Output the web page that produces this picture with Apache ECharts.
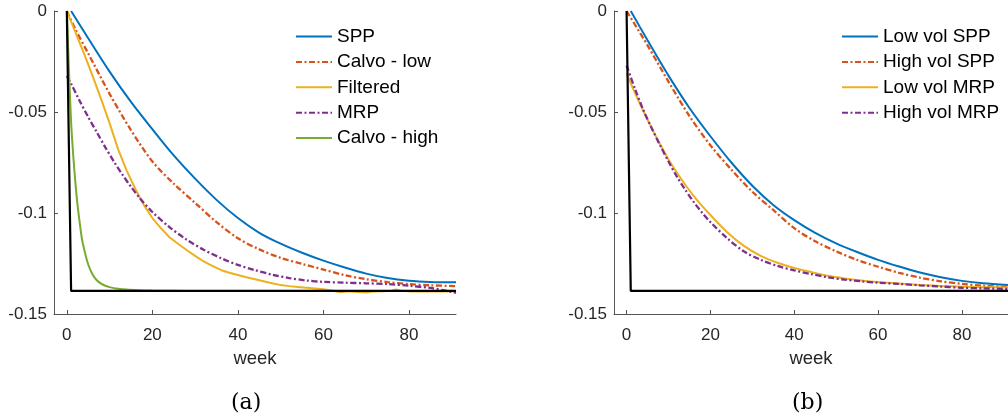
<!DOCTYPE html>
<html>
<head>
<meta charset="utf-8">
<script src="https://cdn.jsdelivr.net/npm/echarts@6/dist/echarts.min.js"></script>
<style>
html,body{margin:0;padding:0;background:#fff;}
#chart{width:1008px;height:416px;}
</style>
</head>
<body>
<div id="chart"></div>
<script>
// ---------- tick labels ----------
var xTicks = [0, 20, 40, 60, 80];
var yTicks = [0, -0.05, -0.1, -0.15];

// ---------- panel (a) ----------
var sppWeeks = [1,5,10,15,20,25,30,35,40,45,50,55,60,65,70,75,80,85,91];
var sppValues = [0,-0.0135,-0.030,-0.045,-0.0585,-0.0715,-0.083,-0.0935,-0.1025,-0.1098,-0.1152,-0.1197,-0.1236,-0.127,-0.1300,-0.1322,-0.1335,-0.1341,-0.1343];

var calvoLowWeeks = [0,2,5,10,15,20,25,30,35,40,45,50,55,60,65,70,75,80,85,91];
var calvoLowValues = [0,-0.009,-0.021,-0.041,-0.059,-0.0745,-0.0855,-0.0950,-0.1045,-0.1125,-0.118,-0.1222,-0.1252,-0.128,-0.1308,-0.1328,-0.1342,-0.1352,-0.1358,-0.1362];

var filteredWeeks = [0,2,4,6,8,10,12,14,16,18,20,22,24,26,28,30,32,34,36,38,40,42,44,46,48,50,52,54,56,58,60,62,64,66,68,70,72,74,76,77,78,80,82,84,86,88,91];
var filteredValues = [0,-0.0105,-0.021,-0.032,-0.0435,-0.0555,-0.0685,-0.079,-0.088,-0.096,-0.1025,-0.1075,-0.112,-0.1152,-0.1183,-0.1212,-0.124,-0.1262,-0.1282,-0.1296,-0.1307,-0.1318,-0.1328,-0.1338,-0.1348,-0.1357,-0.1362,-0.1366,-0.137,-0.1374,-0.1378,-0.1384,-0.1392,-0.1388,-0.1391,-0.1393,-0.1388,-0.1387,-0.1385,-0.1378,-0.1385,-0.1388,-0.1387,-0.1389,-0.1387,-0.1388,-0.1388];

var mrpWeeks = [0,1,3,5,7,9,11,13,15,17,20,24,28,32,36,40,44,48,52,56,60,65,70,75,80,85,88,91];
var mrpValues = [-0.0322,-0.036,-0.0445,-0.0525,-0.060,-0.0675,-0.0745,-0.081,-0.087,-0.0925,-0.0995,-0.107,-0.1132,-0.1182,-0.1223,-0.1257,-0.1283,-0.1305,-0.1322,-0.1334,-0.1341,-0.1345,-0.1348,-0.1352,-0.136,-0.1371,-0.1382,-0.1395];

var calvoHighWeeks = [0,0.5,1,1.5,2,2.5,3,3.5,4,5,6,7,8,9,10,12,14,17,20,25,30,91];
var calvoHighValues = [0,-0.0295,-0.055,-0.0715,-0.085,-0.096,-0.1045,-0.1125,-0.1175,-0.1255,-0.1303,-0.1333,-0.135,-0.136,-0.1367,-0.1375,-0.1379,-0.1382,-0.1384,-0.1385,-0.1386,-0.1386];

var stepWeeks = [0,1,91];
var stepValues = [0,-0.1386,-0.1386];

// ---------- panel (b) ----------
var lowSppWeeks = [1,5,10,15,20,25,30,35,40,45,50,55,60,65,70,75,80,85,91];
var lowSppValues = [0,-0.0145,-0.032,-0.048,-0.062,-0.075,-0.0865,-0.096,-0.1035,-0.1098,-0.1150,-0.1193,-0.1232,-0.1265,-0.1295,-0.1318,-0.1336,-0.1348,-0.1356];

var highSppWeeks = [0,5,10,15,20,25,30,35,40,45,50,55,60,65,70,75,80,85,91];
var highSppValues = [0,-0.017,-0.035,-0.052,-0.0665,-0.0785,-0.0895,-0.0985,-0.1075,-0.114,-0.119,-0.1232,-0.1266,-0.1296,-0.132,-0.1338,-0.1351,-0.136,-0.1366];

var mrpVolWeeks = [0,2,4,6,8,10,12,14,16,18,20,24,28,32,36,40,44,48,52,56,60,65,70,75,80,85,91];
var lowMrpValues = [-0.031,-0.0405,-0.0495,-0.058,-0.066,-0.0735,-0.080,-0.086,-0.0915,-0.0965,-0.101,-0.1095,-0.1163,-0.1212,-0.1246,-0.1272,-0.1292,-0.1311,-0.1324,-0.1334,-0.1342,-0.1349,-0.1356,-0.1361,-0.1365,-0.1367,-0.1369];
var highMrpValues = [-0.027,-0.0385,-0.049,-0.058,-0.0665,-0.0745,-0.082,-0.0885,-0.0945,-0.0998,-0.1045,-0.1125,-0.119,-0.1232,-0.1262,-0.1284,-0.1302,-0.1318,-0.133,-0.1338,-0.1345,-0.1351,-0.1358,-0.1364,-0.137,-0.1373,-0.1376];

// ---------- helpers ----------
function pairs(xs, ys) { return xs.map(function (x, i) { return [x, ys[i]]; }); }
var FONT = 'Liberation Sans';
var AX = '#262626';
var DASHDOT = [6, 2.5, 2, 2.5];

function xAxisFor(gi) {
  return {
    type: 'value', gridIndex: gi, min: -3, max: 91,
    name: 'week', nameLocation: 'middle', nameGap: 35,
    nameTextStyle: { fontFamily: FONT, fontSize: 18.5, color: AX },
    axisLine: { show: true, onZero: false, lineStyle: { color: '#555', width: 1 } },
    axisTick: { show: true, inside: true, length: 4, customValues: xTicks, lineStyle: { color: '#555' } },
    axisLabel: { customValues: xTicks, margin: 13, fontFamily: FONT, fontSize: 17, color: AX },
    splitLine: { show: false }
  };
}
function yAxisFor(gi) {
  return {
    type: 'value', gridIndex: gi, min: -0.15, max: 0,
    axisLine: { show: true, onZero: false, lineStyle: { color: '#555', width: 1 } },
    axisTick: { show: true, inside: true, length: 4, customValues: yTicks, lineStyle: { color: '#555' } },
    axisLabel: { customValues: yTicks, margin: 7, fontFamily: FONT, fontSize: 17, color: AX,
      formatter: function (v) { return String(v); } },
    splitLine: { show: false }
  };
}
function line(name, gi, xs, ys, color, dashed, smooth) {
  return {
    name: name, type: 'line', xAxisIndex: gi, yAxisIndex: gi,
    data: pairs(xs, ys), symbol: 'none', showSymbol: false,
    smooth: smooth ? 0.3 : false,
    lineStyle: { color: color, width: dashed ? 2.3 : 2, type: dashed ? DASHDOT : 'solid' },
    itemStyle: { color: color },
    z: 2
  };
}

var BLUE = '#0072BD', RED = '#D95319', YEL = '#EDB120', PUR = '#7E2F8E', GRN = '#77AC30';

var stepA = line('', 0, stepWeeks, stepValues, '#000', false, false);
stepA.z = 3; stepA.lineStyle.width = 2.2;
var stepB = line('', 1, stepWeeks, stepValues, '#000', false, false);
stepB.z = 3; stepB.lineStyle.width = 2.2;

var legendCommon = {
  orient: 'vertical', top: 27, padding: 0, itemWidth: 36, itemHeight: 14, itemGap: 6.4,
  selectedMode: false,
  itemStyle: { opacity: 0 },
  textStyle: { fontFamily: FONT, fontSize: 19, color: '#000', lineHeight: 19 }
};

var option = {
  animation: false,
  backgroundColor: '#fff',
  grid: [
    { left: 54, top: 11, width: 402, height: 303 },
    { left: 614, top: 11, width: 402, height: 303 }
  ],
  xAxis: [xAxisFor(0), xAxisFor(1)],
  yAxis: [yAxisFor(0), yAxisFor(1)],
  legend: [
    Object.assign({}, legendCommon, { left: 295, data: ['SPP', 'Calvo - low', 'Filtered', 'MRP', 'Calvo - high'] }),
    Object.assign({}, legendCommon, { left: 841, data: ['Low vol SPP', 'High vol SPP', 'Low vol MRP', 'High vol MRP'] })
  ],
  series: [
    line('SPP', 0, sppWeeks, sppValues, BLUE, false, true),
    line('Calvo - low', 0, calvoLowWeeks, calvoLowValues, RED, true, true),
    line('Filtered', 0, filteredWeeks, filteredValues, YEL, false, false),
    line('MRP', 0, mrpWeeks, mrpValues, PUR, true, true),
    line('Calvo - high', 0, calvoHighWeeks, calvoHighValues, GRN, false, true),
    stepA,
    line('Low vol SPP', 1, lowSppWeeks, lowSppValues, BLUE, false, true),
    line('High vol SPP', 1, highSppWeeks, highSppValues, RED, true, true),
    line('Low vol MRP', 1, mrpVolWeeks, lowMrpValues, YEL, false, true),
    line('High vol MRP', 1, mrpVolWeeks, highMrpValues, PUR, true, true),
    stepB
  ],
  graphic: [
    { type: 'text', left: 245 - 14, top: 392, style: { text: '(a)', font: '22px "DejaVu Serif"', fill: '#000' } },
    { type: 'text', left: 806 - 14, top: 392, style: { text: '(b)', font: '22px "DejaVu Serif"', fill: '#000' } }
  ]
};

var chart = echarts.init(document.getElementById('chart'), null, { renderer: 'canvas' });
chart.setOption(option);
</script>
</body>
</html>
